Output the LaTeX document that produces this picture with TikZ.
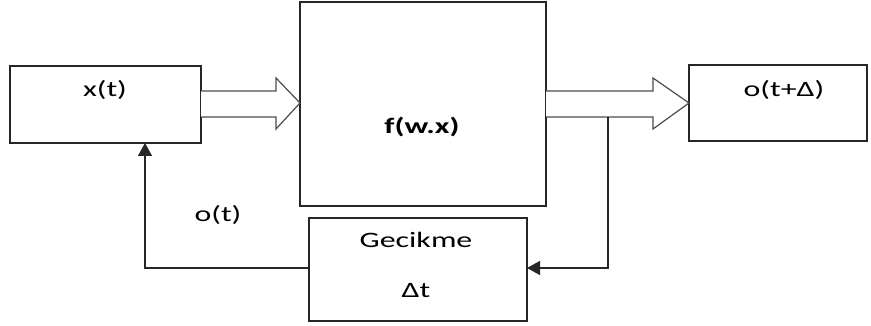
\documentclass[tikz,border=0pt]{standalone}
\usepackage{graphicx}
\usepackage{fontspec}
\setmainfont{Carlito}
\usetikzlibrary{arrows.meta}
% text is set wide: horizontally stretched glyphs
\newcommand{\widetxt}[1]{\scalebox{1.45}[1]{#1}}
\begin{document}
\begin{tikzpicture}[x=1pt,y=-1pt,
  blk/.style={draw=black!85, line width=1.4pt},
  lbl/.style={font=\fontsize{22}{26}\selectfont, inner sep=0pt},
  fat/.style={draw=black!70, line width=1.2pt, fill=white, line join=miter},
  fb/.style={draw=black!85, line width=1.4pt, -{Triangle[length=13pt,width=14pt]}}]
\useasboundingbox (0,0) rectangle (871,326);

% blocks
\draw[blk] (10,66) rectangle (201,143);
\draw[blk] (300,2) rectangle (546,206);
\draw[blk] (689,65) rectangle (867,141);
\draw[blk] (309,218) rectangle (527,321);
\coordinate (dlyR) at (527,268);
\coordinate (dlyL) at (309,268);
\coordinate (xin) at (145,143);

% labels
\node[lbl] (xt) at (105,90) {\widetxt{x(t)}};
\node[lbl, font=\fontsize{22}{26}\selectfont\bfseries] (f) at (422,127) {\widetxt{f(w.x)}};
\node[lbl] (o) at (784,90) {\widetxt{o(t+Δ)}};
\node[lbl] (ot) at (218,215) {\widetxt{o(t)}};
\node[lbl] (g) at (416,240) {\widetxt{Gecikme}};
\node[lbl] (dt) at (416,291) {\widetxt{Δt}};

% wide arrows between blocks
\draw[fat] (201,91) -- (276,91) -- (276,78) -- (300,103) -- (276,129) -- (276,117) -- (201,117);
\draw[fat] (546,91) -- (653,91) -- (653,78) -- (689,103) -- (653,129) -- (653,117) -- (546,117);

% feedback path through the delay
\coordinate (tap) at (608,117);
\draw[fb] (tap) -- (608,268) -- (dlyR);
\draw[fb] (dlyL) -- (145,268) -- (xin);
\end{tikzpicture}
\end{document}
